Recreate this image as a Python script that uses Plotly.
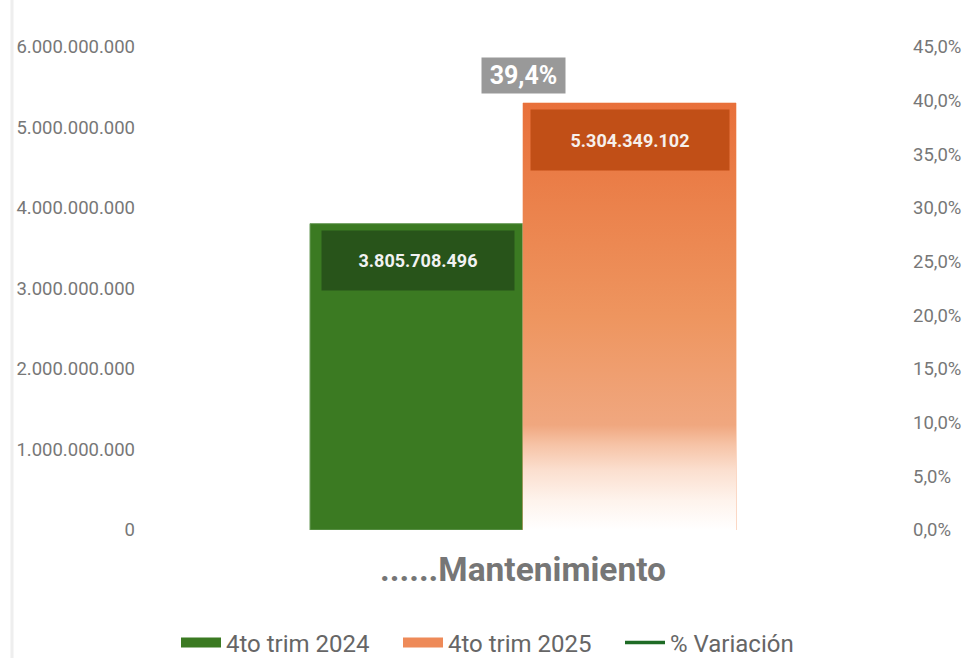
import plotly.graph_objects as go

# ---- data ----
categories = ["......Mantenimiento"]
series_names = ["4to trim 2024", "4to trim 2025", "% Variación"]
values_2024 = [3805708496]
values_2025 = [5304349102]
variation_pct = [0.394]
y1_ticks = [0, 1e9, 2e9, 3e9, 4e9, 5e9, 6e9]
y2_ticks = [0, 0.05, 0.10, 0.15, 0.20, 0.25, 0.30, 0.35, 0.40, 0.45]

# ---- layout constants ----
W, H = 964, 658
ML, MR, MT, MB = 151, 69, 47, 128
BARGAP = 0.4274
FONT = "Roboto, Arial, sans-serif"

GREEN = "#3B7A22"
GREEN_BOX = "#28541A"
ORANGE = "#EE8A58"
ORANGE_BOX = "#C14F17"
GRAY_BOX = "#999999"
LINE_GREEN = "#1E6B25"

def es_int(v):
    return f"{int(v):,}".replace(",", ".")

def es_pct(v):
    return f"{v*100:.1f}".replace(".", ",") + "%"

xpos = list(range(len(categories)))
bw = (1 - BARGAP) / 2  # width of one bar in x units

fig = go.Figure()

fig.add_trace(go.Bar(
    x=xpos, y=values_2024, name=series_names[0],
    marker=dict(color=GREEN, line=dict(color="#6E9E5E", width=1)),
    hoverinfo="skip", showlegend=False,
))
fig.add_trace(go.Bar(
    x=xpos, y=values_2025, name=series_names[1],
    marker=dict(color=ORANGE, line=dict(color="rgba(245,170,130,0.9)", width=1)),
    hoverinfo="skip", showlegend=False,
))

# gradient fill over the 2025 bar, built from the data value and bar width
for i, v in enumerate(values_2025):
    x0 = xpos[i]
    x1 = xpos[i] + bw
    fig.add_trace(go.Scatter(
        x=[x0, x1, x1, x0, x0], y=[0, 0, v, v, 0],
        mode="lines", fill="toself", line=dict(width=0, color="rgba(0,0,0,0)"),
        fillgradient=dict(
            type="vertical", start=0, stop=v,
            colorscale=[
                [0.0, "#FFFFFF"],
                [0.07, "#FEF3EC"],
                [0.14, "#FBDFCF"],
                [0.20, "#F6C3A6"],
                [0.246, "#F0A77F"],
                [0.5, "#EE955F"],
                [1.0, "#E8703A"],
            ],
        ),
        showlegend=False, hoverinfo="skip",
    ))

fig.add_trace(go.Scatter(
    x=xpos, y=variation_pct, name=series_names[2], yaxis="y2",
    mode="lines", line=dict(color=LINE_GREEN, width=3.5),
    hoverinfo="skip", legendrank=3,
))

# legend swatches (wide rectangles like the reference)
fig.add_trace(go.Scatter(
    x=[None], y=[None], name=series_names[0], mode="lines",
    line=dict(color=GREEN, width=10), hoverinfo="skip", legendrank=1,
))
fig.add_trace(go.Scatter(
    x=[None], y=[None], name=series_names[1], mode="lines",
    line=dict(color=ORANGE, width=10), hoverinfo="skip", legendrank=2,
))

annotations = []
for i in range(len(categories)):
    annotations.append(dict(
        x=xpos[i] - bw / 2, y=values_2024[i], xref="x", yref="y",
        text=f"<b>{es_int(values_2024[i])}</b>", showarrow=False,
        yanchor="top", yshift=-6, xshift=1,
        width=192, height=59, bgcolor=GREEN_BOX, borderpad=0,
        font=dict(family=FONT, size=18, color="#F2F2F2"),
    ))
    annotations.append(dict(
        x=xpos[i] + bw / 2, y=values_2025[i], xref="x", yref="y",
        text=f"<b>{es_int(values_2025[i])}</b>", showarrow=False,
        yanchor="top", yshift=-6, xshift=0,
        width=198, height=60, bgcolor=ORANGE_BOX, borderpad=0,
        font=dict(family=FONT, size=18, color="#F6F0EC"),
    ))
    annotations.append(dict(
        x=xpos[i], y=variation_pct[i], xref="x", yref="y2",
        text=f"<b>{es_pct(variation_pct[i])}</b>", showarrow=False,
        yanchor="bottom", yshift=13,
        width=83, height=35, bgcolor=GRAY_BOX, borderpad=0,
        font=dict(family=FONT, size=25, color="#FFFFFF"),
    ))

plot_w = W - ML - MR
plot_h = H - MT - MB
line_x = (12 - ML) / plot_w

fig.update_layout(
    template="none",
    width=W, height=H,
    margin=dict(l=ML, r=MR, t=MT, b=MB, autoexpand=False),
    paper_bgcolor="white", plot_bgcolor="white",
    separators=",.",
    barmode="group", bargap=BARGAP, bargroupgap=0,
    font=dict(family=FONT, color="#777777"),
    xaxis=dict(
        range=[-0.5, 0.5], tickvals=xpos, ticktext=categories,
        showgrid=False, zeroline=False, showline=False, ticks="",
        automargin=False,
        tickfont=dict(family=FONT, size=33.5, color="#767676", weight="bold"),
        ticklabelstandoff=16,
    ),
    yaxis=dict(
        range=[0, 6e9], tickvals=y1_ticks, ticktext=[es_int(t) for t in y1_ticks],
        showgrid=False, zeroline=False, showline=False, ticks="",
        automargin=False,
        tickfont=dict(family=FONT, size=18.5, color="#777777"),
        ticklabelstandoff=15,
    ),
    yaxis2=dict(
        overlaying="y", side="right", range=[0, 0.45],
        tickvals=y2_ticks, ticktext=[es_pct(t) for t in y2_ticks],
        showgrid=False, zeroline=False, showline=False, ticks="",
        automargin=False,
        tickfont=dict(family=FONT, size=18.5, color="#777777"),
        ticklabelstandoff=17,
    ),
    legend=dict(
        orientation="h", x=(509 - ML) / plot_w, xanchor="center",
        y=-(643 - (H - MB)) / plot_h, yanchor="middle",
        font=dict(family=FONT, size=24, color="#666666"),
        itemwidth=40, entrywidth=167, entrywidthmode="pixels",
        traceorder="normal", bgcolor="rgba(0,0,0,0)",
    ),
    annotations=annotations,
    shapes=[dict(
        type="line", xref="paper", yref="paper",
        x0=line_x, x1=line_x, y0=-MB / plot_h, y1=1 + MT / plot_h,
        line=dict(color="#EEEEEE", width=3),
    )],
    showlegend=True,
)

fig.write_html(
    "out.html",
    config={"displayModeBar": False},
    post_script="document.body.style.margin='0';document.body.style.overflow='hidden';",
)
